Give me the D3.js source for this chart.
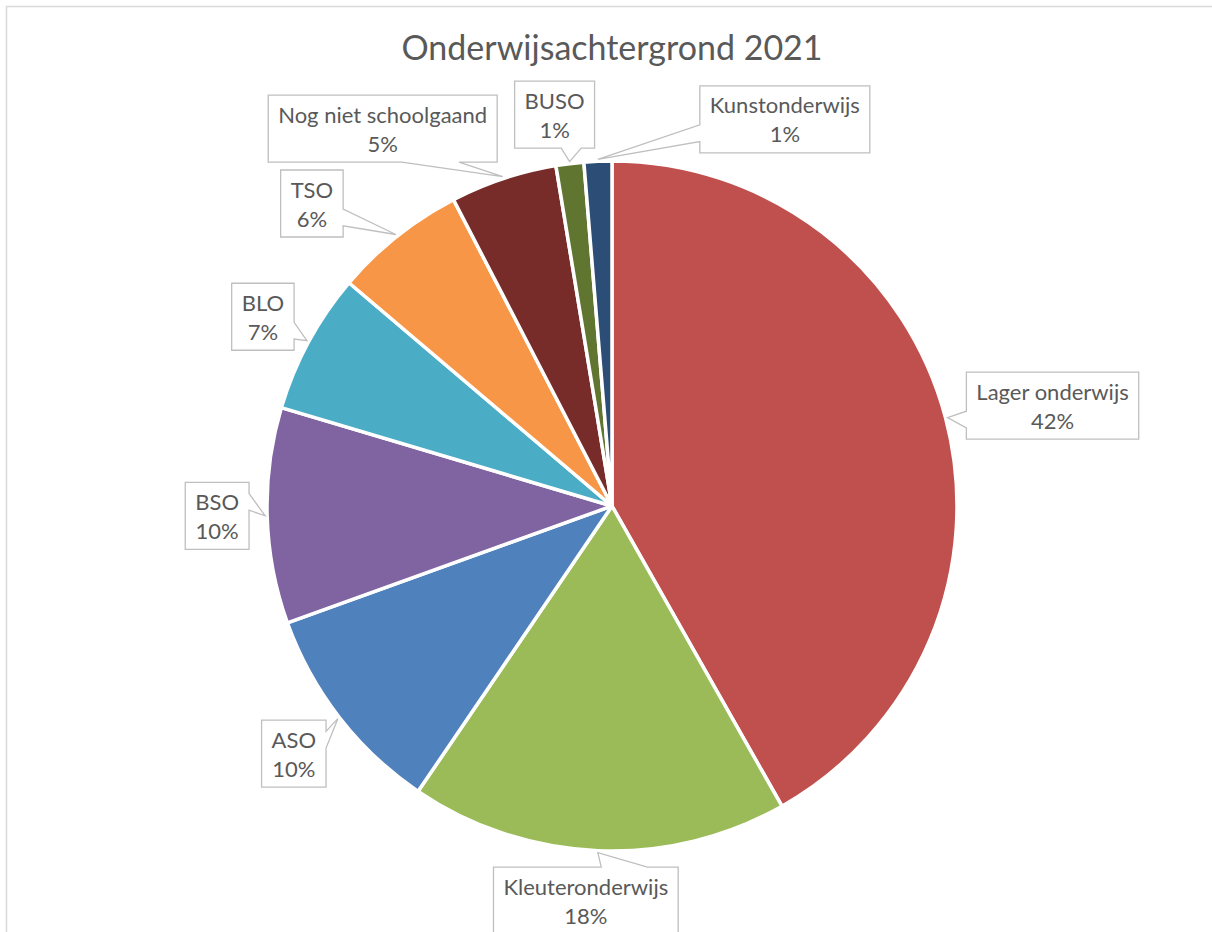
<!DOCTYPE html>
<html>
<head>
<meta charset="utf-8">
<script src="https://cdn.jsdelivr.net/npm/d3@7"></script>
<style>
html, body { margin: 0; padding: 0; background: #fff; overflow: hidden; }
svg { display: block; font-family: Lato, "Open Sans", sans-serif; }
</style>
</head>
<body>
<svg id="chart" width="1212" height="932"></svg>
<script>
var title = "Onderwijsachtergrond 2021";
var categories = ["Lager onderwijs", "Kleuteronderwijs", "ASO", "BSO", "BLO", "TSO", "Nog niet schoolgaand", "BUSO", "Kunstonderwijs"];
var shares = [41.8, 17.7, 10.0, 10.1, 6.6, 6.2, 5.0, 1.3, 1.3];
var colors = ["#C0504D", "#9BBB59", "#4F81BD", "#8064A2", "#4BACC6", "#F79646", "#772C2A", "#5F7530", "#2C4D75"];

// where each callout box sits relative to its pointer tip (layout only)
var labelOffsets = [[105, -12], [-12, 48], [-44, 35], [-48, 0], [-44, -24], [-84, -31], [-120, -48], [-15, -47], [187, -40]];

var W = 1212, H = 932;
var cx = 612, cy = 506, radius = 345;
var textColor = "#595959";
var labelSize = 22;

var svg = d3.select("#chart");

// chart area border
svg.append("rect")
    .attr("x", 6.5).attr("y", 6.5)
    .attr("width", W + 20).attr("height", H + 20)
    .style("fill", "#fff")
    .style("stroke", "#d9d9d9")
    .style("stroke-width", 1.5);

svg.append("text")
    .attr("x", cx).attr("y", 60)
    .attr("text-anchor", "middle")
    .style("font-size", "34px")
    .style("fill", textColor)
    .text(title);

var pie = d3.pie().sort(null).value(function (d) { return d; });
var arcs = pie(shares);
var total = d3.sum(shares);

var arc = d3.arc().innerRadius(0).outerRadius(radius);

var g = svg.append("g").attr("transform", "translate(" + cx + "," + cy + ")");

g.selectAll("path.slice")
    .data(arcs)
    .enter().append("path")
    .attr("class", "slice")
    .attr("d", arc)
    .style("fill", function (d, i) { return colors[i]; })
    .style("stroke", "#fff")
    .style("stroke-width", 3.5)
    .style("stroke-linejoin", "round");

// Excel-style wedgeRectCallout outline
function calloutPath(x, y, w, h, tx, ty) {
    var hc = x + w / 2, vc = y + h / 2;
    var dx = tx - hc, dy = ty - vc;
    var dq = dx * h / w;
    var dz = Math.abs(dy) - Math.abs(dq);
    var x1 = x + w * (dx > 0 ? 7 : 2) / 12, x2 = x + w * (dx > 0 ? 10 : 5) / 12;
    var y1 = y + h * (dy > 0 ? 7 : 2) / 12, y2 = y + h * (dy > 0 ? 10 : 5) / 12;
    var r = x + w, b = y + h;
    var p = [[x, y]];
    if (dz > 0 && dy < 0) p.push([x1, y], [tx, ty], [x2, y]);
    p.push([r, y]);
    if (dz <= 0 && dx > 0) p.push([r, y1], [tx, ty], [r, y2]);
    p.push([r, b]);
    if (dz > 0 && dy > 0) p.push([x2, b], [tx, ty], [x1, b]);
    p.push([x, b]);
    if (dz <= 0 && dx < 0) p.push([x, y2], [tx, ty], [x, y1]);
    return "M" + p.join("L") + "Z";
}

var labels = svg.append("g").attr("class", "labels");

arcs.forEach(function (d, i) {
    var mid = (d.startAngle + d.endAngle) / 2;
    var tx = cx + (radius + 2) * Math.sin(mid);
    var ty = cy - (radius + 2) * Math.cos(mid);
    var pct = Math.round(d.value / total * 100) + "%";

    var lg = labels.append("g");
    var box = lg.append("path");
    var txt = lg.append("text")
        .attr("text-anchor", "middle")
        .style("font-size", labelSize + "px")
        .style("fill", textColor);
    var l1 = txt.append("tspan").text(categories[i]);
    var l2 = txt.append("tspan").text(pct);

    var tw = Math.max(l1.node().getComputedTextLength(), l2.node().getComputedTextLength());
    var bw = tw + 20, bh = 67;
    var bcx = tx + labelOffsets[i][0], bcy = ty + labelOffsets[i][1];
    var bx = bcx - bw / 2, by = bcy - bh / 2;

    box.attr("d", calloutPath(bx, by, bw, bh, tx, ty))
        .style("fill", "#fff")
        .style("stroke", "#bfbfbf")
        .style("stroke-width", 1.3);

    l1.attr("x", bcx).attr("y", bcy - 6);
    l2.attr("x", bcx).attr("y", bcy + 23);
});
</script>
</body>
</html>
